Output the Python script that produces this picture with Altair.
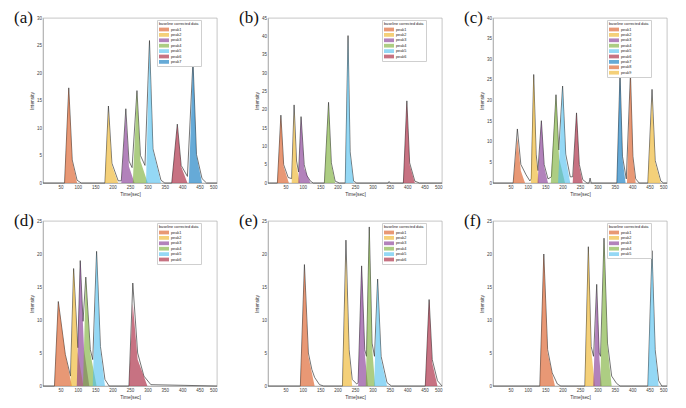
import altair as alt
import pandas as pd

X_TICKS = [0, 50, 100, 150, 200, 250, 300, 350, 400, 450, 500]
PEAK_COLORS = ["#D95319", "#EDB120", "#7E2F8E", "#77AC30", "#4DBEEE",
               "#A2142F", "#0072BD", "#D95319", "#EDB120"]
LINE_NAME = "baseline corrected data"

# ---- panel (a)
A_START = [62, 178, 225, 258, 296, 370, 419]
A_APEX_X = [74, 188, 238, 270, 306, 386, 431]
A_APEX_Y = [17.3, 13.2, 12.5, 16.6, 25.5, 10.5, 22.0]
A_KNEE_X = [84, 198, 247, 280, 316, 397, 441]
A_KNEE_Y = [4.0, 3.2, 3.0, 4.0, 6.0, 3.0, 5.0]
A_END = [98, 216, 263, 301, 339, 415, 457]
A_LINE_X = [0, 62, 74, 84, 98, 110, 178, 188, 198, 216, 225, 238, 247, 256, 270, 280, 293,
            306, 316, 339, 350, 370, 386, 397, 415, 431, 441, 457, 470, 500]
A_LINE_Y = [0, 0, 17.3, 4.2, 0.5, 0, 0, 14.0, 3.6, 0.4, 0.4, 13.5, 4.0, 2.8, 16.8, 5.0, 3.2,
            25.9, 6.2, 0.5, 0, 0, 10.7, 3.2, 1.2, 22.2, 5.2, 0.8, 0, 0]
A_YMAX = 30

# ---- panel (b)
B_START = [27, 68, 87, 162, 222, 389]
B_APEX_X = [37, 75, 95, 174, 230, 399]
B_APEX_Y = [18.3, 19.5, 17.8, 21.5, 40.0, 22.0]
B_KNEE_X = [45, 82, 104, 182, 236, 407]
B_KNEE_Y = [4.5, 4.5, 4.0, 5.0, 8.0, 5.0]
B_END = [60, 92, 122, 193, 246, 422]
B_LINE_X = [0, 27, 37, 45, 58, 68, 75, 82, 88, 95, 104, 112, 122, 130, 162, 174, 182, 193, 205,
            222, 230, 236, 246, 255, 345, 348, 351, 389, 399, 407, 422, 435, 500]
B_LINE_Y = [0, 0, 18.5, 5.0, 1.5, 1.2, 21.3, 6.0, 3.0, 18.1, 5.0, 2.0, 0.5, 0, 0, 22.0, 5.5, 0.5, 0,
            0, 40.2, 8.5, 0.5, 0, 0, 0.4, 0, 0, 22.4, 5.5, 0.5, 0, 0]
B_YMAX = 45

# ---- panel (c)
C_START = [58, 109, 128, 166, 187, 229, 356, 385, 445]
C_APEX_X = [70, 117, 139, 181, 200, 240, 365, 395, 457]
C_APEX_Y = [11.0, 26.3, 15.1, 21.4, 23.5, 17.0, 26.7, 26.5, 20.7]
C_KNEE_X = [80, 124, 147, 190, 209, 248, 372, 402, 466]
C_KNEE_Y = [3.0, 6.0, 4.0, 6.0, 6.0, 4.0, 6.0, 6.0, 5.0]
C_END = [92, 132, 158, 207, 222, 258, 381, 410, 482]
C_LINE_X = [0, 58, 70, 80, 95, 106, 110, 117, 124, 129, 139, 147, 158, 168, 181, 189, 200, 209,
            222, 229, 240, 248, 258, 270, 276, 279, 282, 356, 365, 372, 383, 395, 402, 410, 420,
            445, 457, 466, 482, 490, 500]
C_LINE_Y = [0, 0, 13.1, 4.5, 2.0, 0.5, 1.0, 26.3, 7.0, 3.0, 15.1, 4.5, 1.0, 1.5, 21.4, 8.0, 23.5, 7.0,
            1.5, 1.5, 17.0, 4.5, 0.8, 0, 0, 1.2, 0, 0, 26.7, 6.5, 1.0, 26.5, 6.5, 1.0, 0,
            0, 22.7, 5.5, 0.5, 0, 0]
C_YMAX = 40

# ---- panel (d)
D_START = [33, 79, 97, 115, 143, 247]
D_APEX_X = [44, 88, 107, 123, 154, 258]
D_APEX_Y = [12.8, 17.8, 19.0, 16.5, 20.4, 12.5]
D_KNEE_X = [64, 100, 118, 136, 165, 272]
D_KNEE_Y = [4.8, 5.0, 5.5, 5.0, 5.5, 4.0]
D_END = [83, 116, 133, 154, 178, 300]
D_LINE_X = [0, 33, 44, 64, 79, 88, 100, 107, 115, 123, 136, 143, 154, 165, 178, 190, 247, 258,
            272, 290, 310, 500]
D_LINE_Y = [0, 0, 12.8, 4.8, 1.5, 17.8, 5.8, 19.0, 9.8, 16.5, 5.5, 4.0, 20.4, 6.0, 1.0, 0, 0, 15.6,
            5.0, 1.5, 0.2, 0]
D_YMAX = 25

# ---- panel (e)
E_START = [93, 214, 259, 281, 305, 452]
E_APEX_X = [104.7, 224, 269, 291, 315, 463]
E_APEX_Y = [17.8, 19.7, 18.2, 24.1, 16.2, 13.1]
E_KNEE_X = [116, 233, 278, 299, 325, 472]
E_KNEE_Y = [4.5, 5.0, 5.0, 6.0, 4.0, 3.5]
E_END = [134, 242, 287, 308, 342, 487]
E_LINE_X = [0, 93, 104.7, 116, 126, 134, 148, 160, 214, 224, 233, 242, 255, 259, 269, 278, 283,
            291, 299, 306, 315, 325, 342, 355, 452, 463, 472, 487, 500]
E_LINE_Y = [0, 0, 18.4, 5.0, 2.5, 1.3, 0.2, 0, 0, 22.1, 5.5, 1.0, 0.3, 0.5, 18.2, 5.5, 4.5,
            24.1, 6.5, 4.5, 16.2, 4.5, 0.5, 0, 0, 13.1, 4.0, 0.8, 0]
E_YMAX = 25

# ---- panel (f)
F_START = [134.6, 264, 288, 308, 445]
F_APEX_X = [146, 274, 298, 319, 457]
F_APEX_Y = [20.0, 21.1, 14.6, 22.4, 20.0]
F_KNEE_X = [157, 282, 306, 329, 466]
F_KNEE_Y = [5.0, 5.5, 4.0, 6.0, 5.0]
F_END = [178, 293, 312, 341, 476]
F_LINE_X = [0, 134.6, 146, 157, 170, 185, 195, 264, 274, 282, 289, 298, 305, 309, 319, 329, 341,
            355, 365, 445, 457, 466, 476, 485, 500]
F_LINE_Y = [0, 0, 20.0, 5.5, 2.0, 0.3, 0, 0, 21.1, 6.0, 4.5, 15.4, 5.0, 4.5, 22.4, 6.5, 1.5,
            0.4, 0, 0, 20.5, 5.5, 0.8, 0, 0]
F_YMAX = 25

FONT = "Liberation Sans"
W, H = 174, 165


def panel(label, starts, apx, apy, knx, kny, ends, lx, ly, ymax):
    rows = []
    names = []
    for i in range(len(starts)):
        name = f"peak{i + 1}"
        names.append(name)
        for px, py in [(starts[i], 0), (apx[i], apy[i]), (knx[i], kny[i]), (ends[i], 0)]:
            rows.append({"x": px, "y": py, "peak": name, "idx": i})
    area_df = pd.DataFrame(rows)
    line_df = pd.DataFrame({"x": lx, "y": ly, "series": LINE_NAME})

    xs = alt.Scale(domain=[0, 500], nice=False)
    ys = alt.Scale(domain=[0, ymax], nice=False)
    xax = alt.Axis(values=X_TICKS, labelExpr="datum.value == 0 ? '' : datum.label",
                   title="Time[sec]", labelOverlap=False)
    yax = alt.Axis(values=list(range(0, ymax + 1, 5)), title="Intensity", labelOverlap=False)

    line = alt.Chart(line_df).mark_line(strokeWidth=0.7).encode(
        x=alt.X("x:Q", scale=xs, axis=xax),
        y=alt.Y("y:Q", scale=ys, axis=yax),
        color=alt.Color("series:N",
                        scale=alt.Scale(domain=[LINE_NAME], range=["#3a3a3a"]),
                        legend=alt.Legend(orient="none", legendX=116, legendY=3.6, title=None,
                                          labelExpr="''", padding=0,
                                          symbolType="M-1,0L3,0", symbolSize=25,
                                          symbolStrokeWidth=0.7, labelFontSize=3.8)),
    )
    area = alt.Chart(area_df).mark_area(fillOpacity=0.6, strokeWidth=0).encode(
        x=alt.X("x:Q", scale=xs, axis=xax),
        y=alt.Y("y:Q", scale=ys, axis=yax, stack=None),
        fill=alt.Fill("peak:N",
                      scale=alt.Scale(domain=names, range=PEAK_COLORS[:len(names)]),
                      legend=alt.Legend(orient="none", legendX=114, legendY=2,
                                        title="\u00a0" * 11 + LINE_NAME,
                                        titleFontSize=3.8, titleFontWeight="normal",
                                        titleFont=FONT, titleColor="#222222", titlePadding=1.2,
                                        labelFont=FONT, labelFontSize=3.8, labelColor="#222222",
                                        labelOffset=7,
                                        symbolType="M-1,-0.75L3,-0.75L3,0.75L-1,0.75Z",
                                        symbolSize=25, symbolStrokeWidth=0, symbolOpacity=0.6,
                                        rowPadding=0.4, padding=2,
                                        strokeColor="#cfcfcf", fillColor="white")),
        detail="idx:N",
    )
    return alt.layer(line, area).properties(
        width=W, height=H,
        title=alt.Title(label, anchor="start", frame="group", dx=-29, dy=16,
                        font="Liberation Serif", fontSize=17, fontWeight="normal",
                        color="#111111"),
    )


charts = [
    panel("(a)", A_START, A_APEX_X, A_APEX_Y, A_KNEE_X, A_KNEE_Y, A_END, A_LINE_X, A_LINE_Y, A_YMAX),
    panel("(b)", B_START, B_APEX_X, B_APEX_Y, B_KNEE_X, B_KNEE_Y, B_END, B_LINE_X, B_LINE_Y, B_YMAX),
    panel("(c)", C_START, C_APEX_X, C_APEX_Y, C_KNEE_X, C_KNEE_Y, C_END, C_LINE_X, C_LINE_Y, C_YMAX),
    panel("(d)", D_START, D_APEX_X, D_APEX_Y, D_KNEE_X, D_KNEE_Y, D_END, D_LINE_X, D_LINE_Y, D_YMAX),
    panel("(e)", E_START, E_APEX_X, E_APEX_Y, E_KNEE_X, E_KNEE_Y, E_END, E_LINE_X, E_LINE_Y, E_YMAX),
    panel("(f)", F_START, F_APEX_X, F_APEX_Y, F_KNEE_X, F_KNEE_Y, F_END, F_LINE_X, F_LINE_Y, F_YMAX),
]

chart = alt.concat(*charts, columns=3, spacing={"row": 38, "column": 51}, bounds="flush").resolve_scale(
    x="independent", y="independent", color="independent", fill="independent"
).resolve_legend(color="independent", fill="independent").properties(
    padding={"left": 5, "top": 0, "right": 5, "bottom": 5}, background="white"
).configure_axis(
    labelFont=FONT, labelFontSize=4.5, labelColor="#404040",
    titleFont=FONT, titleFontSize=4.8, titleFontWeight="normal", titleColor="#333333",
    domainColor="#a0a0a0", domainWidth=0.6, ticks=False, grid=False,
    labelPadding=1.5, titlePadding=2,
).configure_view(stroke="#a0a0a0", strokeWidth=0.6)

chart.save("out.html", embed_options={"renderer": "svg", "actions": False})
